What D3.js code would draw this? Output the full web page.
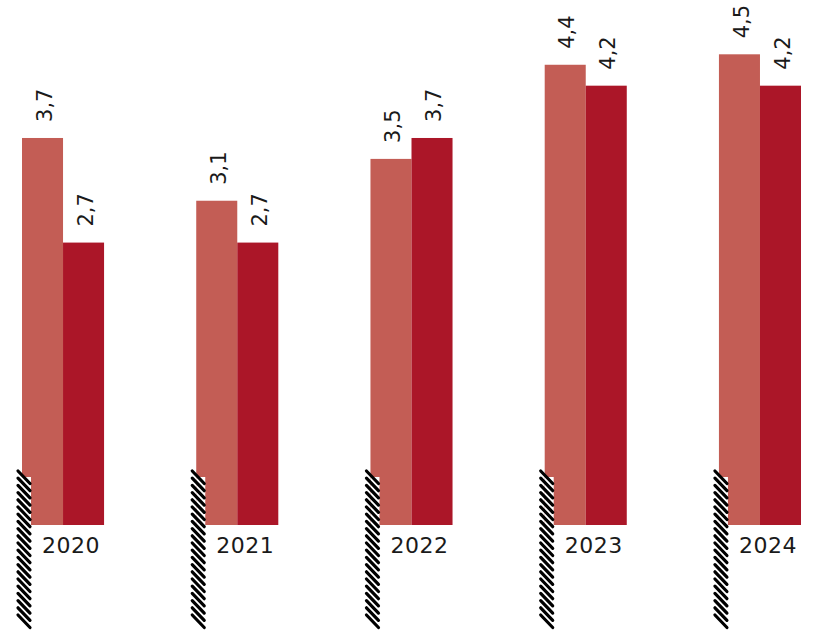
<!DOCTYPE html>
<html>
<head>
<meta charset="utf-8">
<script src="https://cdn.jsdelivr.net/npm/d3@7"></script>
<style>
html,body{margin:0;padding:0;background:#fff;}
svg{display:block;}
</style>
</head>
<body>
<svg id="chart" width="819" height="636"></svg>
<script>
const years = ["2020", "2021", "2022", "2023", "2024"];
const seriesNames = ["A", "B"];
const seriesA = [3.7, 3.1, 3.5, 4.4, 4.5];
const seriesB = [2.7, 2.7, 3.7, 4.2, 4.2];
const colors = ["#C35D55", "#AB1628"];

const svg = d3.select("#chart");
const baseY = 525;

const x0 = d3.scaleBand().domain(years).range([22, 801]).paddingInner(0.529).paddingOuter(0);
const x1 = d3.scaleBand().domain(seriesNames).range([0, x0.bandwidth()]).padding(0);
const y = d3.scaleLinear().domain([0, 4.5]).range([baseY, baseY - 4.5 * 104.6]);

const fmt = d3.formatLocale({decimal: ",", thousands: " ", grouping: [3], currency: ["", ""]}).format(".1f");

const rows = years.map((yr, i) => ({year: yr, values: [
  {key: "A", v: seriesA[i]},
  {key: "B", v: seriesB[i]}
]}));

const g = svg.append("g");
const groups = g.selectAll("g.grp").data(rows).join("g")
  .attr("class", "grp")
  .attr("transform", d => `translate(${x0(d.year)},0)`);

groups.selectAll("rect.bar").data(d => d.values).join("rect")
  .attr("class", "bar")
  .attr("x", d => x1(d.key))
  .attr("width", x1.bandwidth())
  .attr("y", d => y(d.v))
  .attr("height", d => baseY - y(d.v))
  .attr("fill", (d, i) => colors[i]);

groups.selectAll("text.val").data(d => d.values).join("text")
  .attr("class", "val")
  .attr("transform", d => `translate(${x1(d.key) + x1.bandwidth() / 2 + 1.5},${y(d.v) - 16}) rotate(-90)`)
  .attr("dy", "0.36em")
  .attr("text-anchor", "start")
  .attr("font-family", "DejaVu Sans, sans-serif")
  .attr("font-size", 21)
  .attr("fill", "#1a1a1a")
  .text(d => fmt(d.v));

// hatched base strip
const stripX0 = -5, stripX1 = 9, stripTop = 477, lineTop = 471, stripBottom = 628;
groups.append("rect")
  .attr("x", 0)
  .attr("y", stripTop)
  .attr("width", stripX1)
  .attr("height", baseY - stripTop)
  .attr("fill", "#fff");

const hatchOffsets = d3.range(lineTop, stripBottom - 12, 7.2);
groups.selectAll("line.hatch").data(hatchOffsets).join("line")
  .attr("class", "hatch")
  .attr("x1", stripX0 + 1)
  .attr("y1", d => d)
  .attr("x2", stripX1 - 1)
  .attr("y2", d => d + 12.5)
  .attr("stroke", "#000")
  .attr("stroke-width", 3.2)
  .attr("stroke-linecap", "round");

groups.append("text")
  .attr("x", 20)
  .attr("y", 553)
  .attr("font-family", "DejaVu Sans, sans-serif")
  .attr("font-size", 22)
  .attr("letter-spacing", 0.5)
  .attr("fill", "#1a1a1a")
  .text(d => d.year);
</script>
</body>
</html>
